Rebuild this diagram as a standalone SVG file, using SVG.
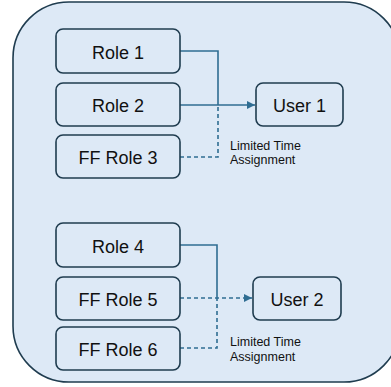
<svg xmlns="http://www.w3.org/2000/svg" width="391" height="387" viewBox="0 0 391 387">
<style>
.box{fill:#dde9f6;stroke:#1f3c4f;stroke-width:1.6}
.t{font-family:"Liberation Sans",Arial,sans-serif;font-size:18px;fill:#111;text-anchor:middle}
.lbl{font-family:"Liberation Sans",Arial,sans-serif;font-size:12.5px;fill:#111}
.c{fill:none;stroke:#2f6d92;stroke-width:1.6}
.d{stroke-dasharray:4 3}
</style>
<defs>
<marker id="ah" viewBox="0 0 10 10" refX="10" refY="5" markerWidth="5" markerHeight="5" orient="auto" markerUnits="strokeWidth">
<path d="M0,0 L10,5 L0,10 z" fill="#2f6d92"/>
</marker>
</defs>
<g id="container"><rect x="13" y="2" width="387" height="380" rx="56" fill="#dde9f6" stroke="#1f3c4f" stroke-width="1.6"/></g>
<g id="connectors">
<path class="c" d="M180,51 H218 V105"/>
<path class="c" d="M180,105 H255" marker-end="url(#ah)"/>
<path class="c d" d="M180,157 H218 V105"/>
<path class="c" d="M180,245 H217 V298"/>
<path class="c d" d="M180,298 H252" marker-end="url(#ah)"/>
<path class="c d" d="M180,348 H217 V298"/>
</g>
<g id="role1"><rect class="box" x="56" y="29" width="124" height="44" rx="7"/><text class="t" x="118" y="59">Role 1</text></g>
<g id="role2"><rect class="box" x="56" y="83" width="124" height="43" rx="7"/><text class="t" x="118" y="112">Role 2</text></g>
<g id="ffrole3"><rect class="box" x="56" y="135" width="124" height="43" rx="7"/><text class="t" x="118" y="164">FF Role 3</text></g>
<g id="user1"><rect class="box" x="256" y="83" width="87" height="43" rx="7"/><text class="t" x="299.5" y="112">User 1</text></g>
<g id="label1"><text class="lbl" x="230" y="150">Limited Time</text><text class="lbl" x="230" y="164">Assignment</text></g>
<g id="role4"><rect class="box" x="56" y="223" width="124" height="44" rx="7"/><text class="t" x="118" y="253">Role 4</text></g>
<g id="ffrole5"><rect class="box" x="56" y="277" width="124" height="43" rx="7"/><text class="t" x="118" y="306">FF Role 5</text></g>
<g id="ffrole6"><rect class="box" x="56" y="327" width="124" height="43" rx="7"/><text class="t" x="118" y="356">FF Role 6</text></g>
<g id="user2"><rect class="box" x="253" y="277" width="88" height="43" rx="7"/><text class="t" x="297" y="306">User 2</text></g>
<g id="label2"><text class="lbl" x="230" y="346">Limited Time</text><text class="lbl" x="230" y="361">Assignment</text></g>
</svg>
